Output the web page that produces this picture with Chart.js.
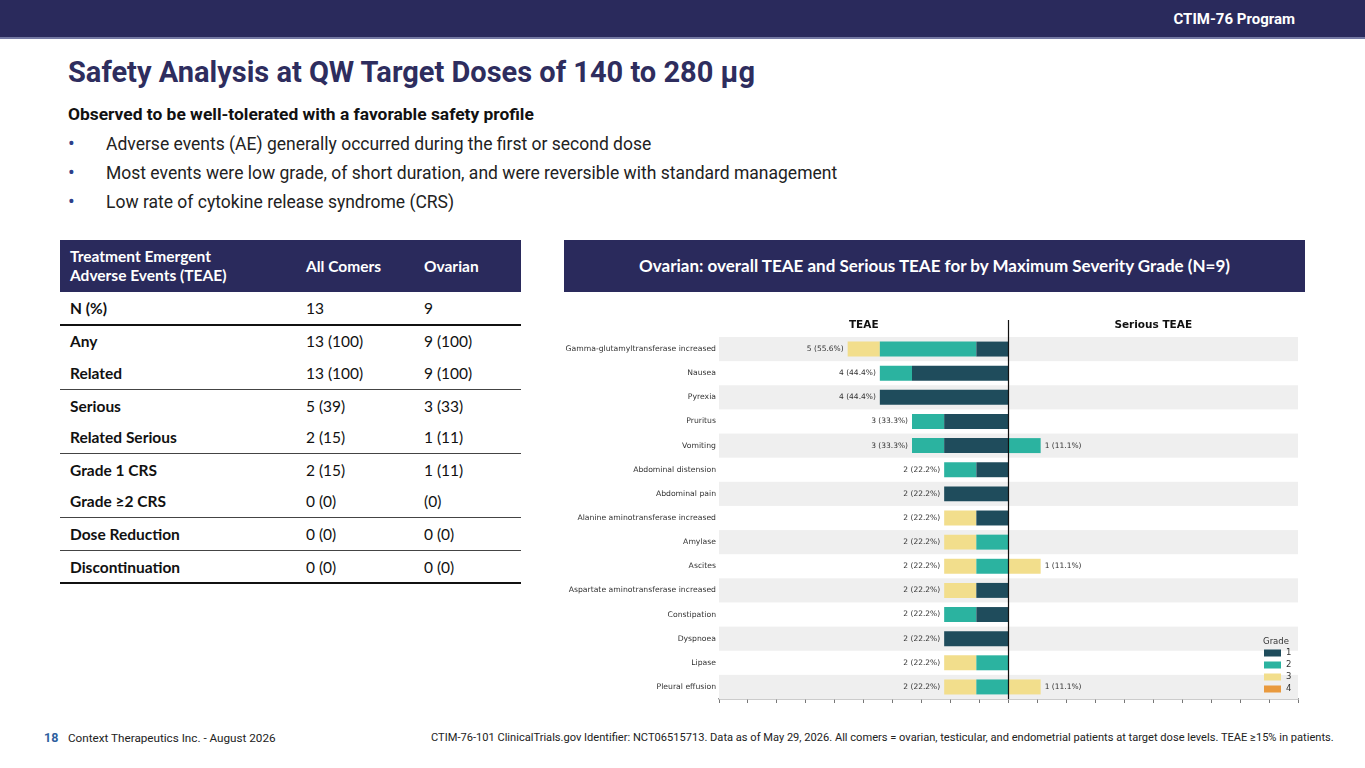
<!DOCTYPE html>
<html>
<head>
<meta charset="utf-8">
<script src="https://cdn.jsdelivr.net/npm/chart.js@4.4.1/dist/chart.umd.min.js"></script>
<style>
    body { margin: 0; width: 1365px; height: 768px; background: #fff; position: relative; overflow: hidden; font-family: Roboto, sans-serif; }
    .topbar { position: absolute; left: 0; top: 0; width: 1365px; height: 37px; background: #2a2a5c; border-bottom: 2px solid #7479a3; }
    .program { position: absolute; right: 70px; top: 10px; color: #fff; font: bold 15px Roboto, sans-serif; }
    h1 { position: absolute; left: 68px; top: 55px; margin: 0; font: bold 29px Roboto, sans-serif; color: #2e2d5e; white-space: nowrap; }
    .sub { position: absolute; left: 68px; top: 104px; font: bold 17.4px Roboto, sans-serif; color: #111; white-space: nowrap; }
    .bullet { position: absolute; left: 68px; font: 17.5px Roboto, sans-serif; color: #222; white-space: nowrap; }
    .bullet span { color: #2e3f8a; display: inline-block; width: 38px; font-size: 20px; line-height: 17px; }
    table { position: absolute; left: 60px; top: 240px; width: 461px; border-collapse: collapse; font: 15.5px Lato, sans-serif; color: #111; }
    th { background: #2a2a5c; color: #fff; font-weight: bold; text-align: left; height: 52px; padding: 0 0 0 10px; line-height: 19px; }
    td { height: 31.6px; padding: 0 0 0 10px; }
    td:first-child { font-weight: bold; }
    tr.thick td { border-bottom: 2px solid #111; }
    tr.thin td { border-bottom: 1.5px solid #444; }
    .panel { position: absolute; left: 564px; top: 240px; width: 741px; height: 52px; background: #2a2a5c; color: #fff; font: bold 17px Lato, sans-serif; text-align: center; line-height: 52px; }
    .chartbox { position: absolute; left: 564px; top: 300px; width: 741px; height: 410px; }
    .foot-num { position: absolute; left: 44px; top: 730px; font: bold 12.5px Roboto, sans-serif; color: #2e5f9e; }
    .foot { position: absolute; top: 731px; font: 11.7px "Liberation Sans Narrow", Roboto, sans-serif; color: #222; white-space: nowrap; }
</style>
</head>
<body>
<div class="topbar"><div class="program">CTIM-76 Program</div></div>
<h1>Safety Analysis at QW Target Doses of 140 to 280 µg</h1>
<div class="sub">Observed to be well-tolerated with a favorable safety profile</div>
<div class="bullet" style="top:134px"><span>•</span>Adverse events (AE) generally occurred during the first or second dose</div>
<div class="bullet" style="top:163px"><span>•</span>Most events were low grade, of short duration, and were reversible with standard management</div>
<div class="bullet" style="top:192px"><span>•</span>Low rate of cytokine release syndrome (CRS)</div>

<table>
    <tr><th style="width:226px">Treatment Emergent<br>Adverse Events (TEAE)</th><th style="width:108px">All Comers</th><th>Ovarian</th></tr>
    <tr class="thick"><td>N (%)</td><td>13</td><td>9</td></tr>
    <tr><td>Any</td><td>13 (100)</td><td>9 (100)</td></tr>
    <tr class="thin"><td>Related</td><td>13 (100)</td><td>9 (100)</td></tr>
    <tr><td>Serious</td><td>5 (39)</td><td>3 (33)</td></tr>
    <tr class="thin"><td>Related Serious</td><td>2 (15)</td><td>1 (11)</td></tr>
    <tr><td>Grade 1 CRS</td><td>2 (15)</td><td>1 (11)</td></tr>
    <tr class="thin"><td>Grade ≥2 CRS</td><td>0 (0)</td><td>(0)</td></tr>
    <tr class="thin"><td>Dose Reduction</td><td>0 (0)</td><td>0 (0)</td></tr>
    <tr class="thick"><td>Discontinuation</td><td>0 (0)</td><td>0 (0)</td></tr>
</table>

<div class="panel">Ovarian: overall TEAE and Serious TEAE for by Maximum Severity Grade (N=9)</div>
<div class="chartbox"><canvas id="aeChart"></canvas></div>

<div class="foot-num">18</div>
<div class="foot" style="left:68px">Context Therapeutics Inc. - August 2026</div>
<div class="foot" style="left:431px;font-size:11.1px">CTIM-76-101 ClinicalTrials.gov Identifier: NCT06515713. Data as of May 29, 2026. All comers = ovarian, testicular, and endometrial patients at target dose levels. TEAE ≥15% in patients.</div>

<script>
// Ovarian cohort, patients with each event by maximum grade
const nPatients = 9;
const categories = [
    'Gamma-glutamyltransferase increased', 'Nausea', 'Pyrexia', 'Pruritus', 'Vomiting',
    'Abdominal distension', 'Abdominal pain', 'Alanine aminotransferase increased', 'Amylase',
    'Ascites', 'Aspartate aminotransferase increased', 'Constipation', 'Dyspnoea', 'Lipase',
    'Pleural effusion'
];
const teaeG1 = [1, 3, 4, 2, 2, 1, 2, 1, 0, 0, 1, 1, 2, 0, 0];
const teaeG2 = [3, 1, 0, 1, 1, 1, 0, 0, 1, 1, 0, 1, 0, 1, 1];
const teaeG3 = [1, 0, 0, 0, 0, 0, 0, 1, 1, 1, 1, 0, 0, 1, 1];
const teaeG4 = [0, 0, 0, 0, 0, 0, 0, 0, 0, 0, 0, 0, 0, 0, 0];
const seriousG1 = [0, 0, 0, 0, 0, 0, 0, 0, 0, 0, 0, 0, 0, 0, 0];
const seriousG2 = [0, 0, 0, 0, 1, 0, 0, 0, 0, 0, 0, 0, 0, 0, 0];
const seriousG3 = [0, 0, 0, 0, 0, 0, 0, 0, 0, 1, 0, 0, 0, 0, 1];
const seriousG4 = [0, 0, 0, 0, 0, 0, 0, 0, 0, 0, 0, 0, 0, 0, 0];
const gradeLabels = ['1', '2', '3', '4'];
const gradeColors = ['#1f4c5c', '#2bb3a0', '#f2de8c', '#e99a3e'];

const pct = n => n * 100 / nPatients;
const sum = (rows, i) => rows.reduce((s, r) => s + r[i], 0);
const teaeRows = [teaeG1, teaeG2, teaeG3, teaeG4];
const seriousRows = [seriousG1, seriousG2, seriousG3, seriousG4];

const datasets = [];
teaeRows.forEach((row, g) => datasets.push({
    label: 'TEAE grade ' + gradeLabels[g],
    data: row.map(n => -pct(n)),
    backgroundColor: gradeColors[g]
}));
seriousRows.forEach((row, g) => datasets.push({
    label: 'Serious grade ' + gradeLabels[g],
    data: row.map(n => pct(n)),
    backgroundColor: gradeColors[g]
}));

const FONT = '"DejaVu Sans", sans-serif';

// alternating row bands behind the bars
const bandPlugin = {
    id: 'bands',
    beforeDatasetsDraw(chart) {
        const { ctx, chartArea, scales: { y } } = chart;
        const h = y.getPixelForValue(1) - y.getPixelForValue(0);
        ctx.save();
        ctx.fillStyle = '#efefef';
        categories.forEach((c, i) => {
            if (i % 2 === 0) {
                const yc = y.getPixelForValue(i);
                ctx.fillRect(chartArea.left, yc - h / 2, chartArea.width, h);
            }
        });
        ctx.restore();
    }
};

// centre line, panel titles, value labels and grade legend
const annotatePlugin = {
    id: 'annotate',
    afterDatasetsDraw(chart) {
        const { ctx, chartArea, scales: { x, y } } = chart;
        const x0 = x.getPixelForValue(0);
        ctx.save();
        ctx.strokeStyle = '#111';
        ctx.lineWidth = 1.2;
        ctx.beginPath();
        ctx.moveTo(x0, chartArea.top - 17);
        ctx.lineTo(x0, chartArea.bottom);
        ctx.stroke();

        ctx.fillStyle = '#111';
        ctx.font = 'bold 10.5px ' + FONT;
        ctx.textAlign = 'center';
        ctx.textBaseline = 'middle';
        ctx.fillText('TEAE', x.getPixelForValue(-50), chartArea.top - 12);
        ctx.fillText('Serious TEAE', x.getPixelForValue(50), chartArea.top - 12);

        ctx.font = '7.5px ' + FONT;
        ctx.fillStyle = '#333';
        categories.forEach((c, i) => {
            const yc = y.getPixelForValue(i);
            const t = sum(teaeRows, i);
            if (t > 0) {
                ctx.textAlign = 'right';
                ctx.fillText(t + ' (' + pct(t).toFixed(1) + '%)', x.getPixelForValue(-pct(t)) - 4, yc);
            }
            const s = sum(seriousRows, i);
            if (s > 0) {
                ctx.textAlign = 'left';
                ctx.fillText(s + ' (' + pct(s).toFixed(1) + '%)', x.getPixelForValue(pct(s)) + 4, yc);
            }
        });

        // legend box, lower right
        const lx = chartArea.right - 34;
        const ly = chartArea.bottom - 57;
        ctx.font = '8.5px ' + FONT;
        ctx.fillStyle = '#333';
        ctx.textAlign = 'center';
        ctx.fillText('Grade', lx + 12, ly);
        gradeLabels.forEach((g, k) => {
            const yy = ly + 11 + k * 12;
            ctx.fillStyle = gradeColors[k];
            ctx.fillRect(lx, yy - 3.5, 17, 7);
            ctx.fillStyle = '#333';
            ctx.textAlign = 'left';
            ctx.fillText(g, lx + 22, yy);
        });
        ctx.restore();
    }
};

new Chart(document.getElementById('aeChart'), {
    type: 'bar',
    data: { labels: categories, datasets: datasets },
    options: {
        indexAxis: 'y',
        responsive: true,
        maintainAspectRatio: false,
        animation: false,
        layout: { padding: { top: 37, right: 7, bottom: 7, left: 0 } },
        datasets: { bar: { categoryPercentage: 1, barPercentage: 0.62, borderWidth: 0 } },
        plugins: {
            legend: { display: false },
            tooltip: { enabled: false }
        },
        scales: {
            x: {
                stacked: true,
                min: -100,
                max: 100,
                ticks: { display: false, stepSize: 10 },
                grid: { drawOnChartArea: false, drawTicks: true, tickLength: 4, color: '#777' },
                border: { color: '#999', width: 1.5 }
            },
            y: {
                stacked: true,
                afterFit(scale) { scale.width = 155; },
                grid: { display: false, drawTicks: false },
                border: { display: false },
                ticks: { font: { family: FONT, size: 7.7 }, color: '#333', padding: 3, autoSkip: false }
            }
        }
    },
    plugins: [bandPlugin, annotatePlugin]
});
</script>
</body>
</html>
